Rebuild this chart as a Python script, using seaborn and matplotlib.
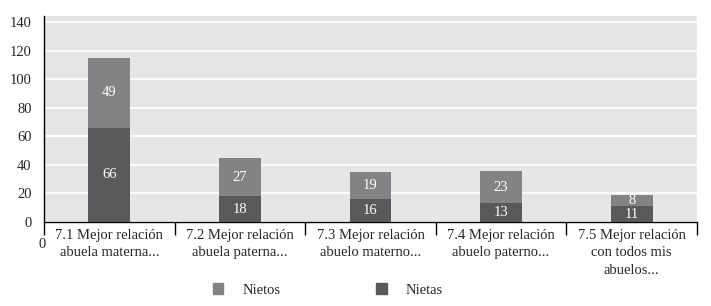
import matplotlib
matplotlib.use("Agg")
import matplotlib.pyplot as plt
import seaborn as sns
import pandas as pd
import numpy as np
from matplotlib.patches import Patch
from matplotlib.ticker import FixedLocator

categories = ["7.1 Mejor relación\nabuela materna...",
              "7.2 Mejor relación\nabuela paterna...",
              "7.3 Mejor relación\nabuelo materno...",
              "7.4 Mejor relación\nabuelo paterno...",
              "7.5 Mejor relación\ncon todos mis\nabuelos..."]
nietas = [66, 18, 16, 13, 11]
nietos = [49, 27, 19, 23, 8]
yticks = [0, 20, 40, 60, 80, 100, 120, 140]

c_nietos = "#838386"
c_nietas = "#59595b"

sns.set_theme(style="white")
plt.rcParams['font.family'] = ['Liberation Serif', 'DejaVu Serif']

df = pd.DataFrame({"cat": categories, "nietas": nietas, "nietos": nietos})
df["total"] = df["nietas"] + df["nietos"]

fig = plt.figure(figsize=(7.11, 3.06), dpi=100)
ax = fig.add_axes([44/711, 1-222/306, (697-44)/711, (222-16)/306])
ax.set_facecolor("#e6e6e7")

sns.barplot(data=df, x="cat", y="total", color=c_nietos, width=0.32,
            saturation=1, ax=ax, zorder=3, edgecolor="none", linewidth=0)
sns.barplot(data=df, x="cat", y="nietas", color=c_nietas, width=0.32,
            saturation=1, ax=ax, zorder=3, edgecolor="none", linewidth=0)

ax.set_ylim(0, 144.5)
ax.set_xlim(-0.5, 4.5)
ax.set_yticks(yticks)
ax.set_yticklabels([str(t) for t in yticks], fontsize=10.5)
ax.yaxis.grid(True, color="white", linewidth=1.3, zorder=0)
ax.set_axisbelow(True)
ax.tick_params(axis="y", length=0, pad=9)
ax.yaxis.set_minor_locator(FixedLocator([0]))
ax.tick_params(axis="y", which="minor", length=6, width=1, color="black", direction="out", left=True)

ax.set_xticks(range(len(categories)))
ax.set_xticklabels(categories, fontsize=10.5, linespacing=1.45)
ax.tick_params(axis="x", length=0, pad=5)
ax.xaxis.set_minor_locator(FixedLocator([-0.5, 0.5, 1.5, 2.5, 3.5, 4.5]))
ax.tick_params(axis="x", which="minor", length=9, width=1, color="black", direction="out", bottom=True)

ax.set_xlabel("")
ax.set_ylabel("")
for s in ["top", "right"]:
    ax.spines[s].set_visible(False)
for s in ["left", "bottom"]:
    ax.spines[s].set_color("black")
    ax.spines[s].set_linewidth(1)

for i in range(len(categories)):
    ax.text(i, nietas[i] / 2, str(nietas[i]), ha="center", va="center",
            color="white", fontsize=10.5, zorder=5)
    ax.text(i, nietas[i] + nietos[i] / 2, str(nietos[i]), ha="center", va="center",
            color="white", fontsize=10.5, zorder=5)

fig.text(42/711, 1-245/306, "0", ha="center", va="center", fontsize=10.5)

handles = [Patch(color=c_nietos, label="Nietos"), Patch(color=c_nietas, label="Nietas")]
fig.legend(handles=handles, loc="center left", bbox_to_anchor=(213/711, 1-290/306),
           ncol=2, frameon=False, fontsize=10.5, handlelength=0.7, handleheight=0.7,
           handletextpad=1.3, columnspacing=6.6, borderpad=0, borderaxespad=0)

fig.savefig("out.png", dpi=100)
